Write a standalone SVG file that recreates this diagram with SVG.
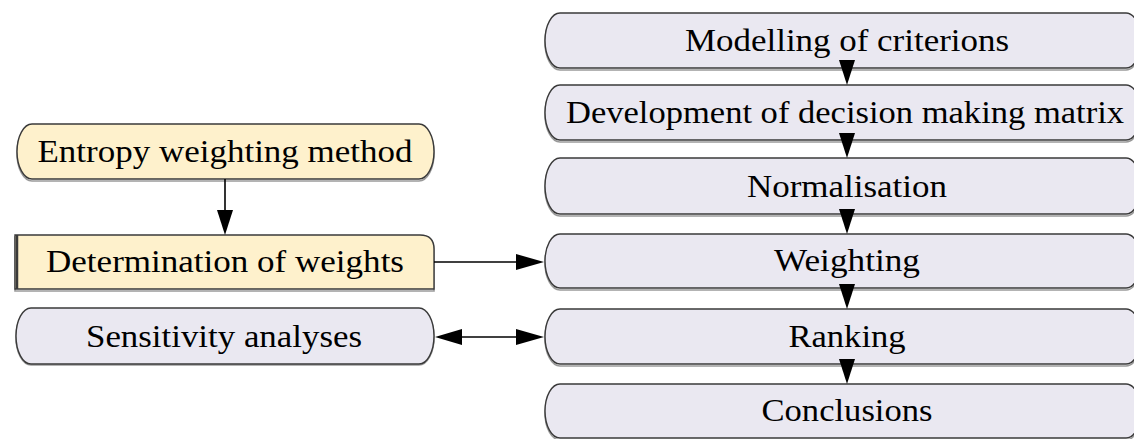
<svg xmlns="http://www.w3.org/2000/svg" width="1134" height="439" viewBox="0 0 1134 439">
<style>
.y{fill:#FEF1CC;stroke:#3a3a3a;stroke-width:1.4}
.p{fill:#EAE8F1;stroke:#3a3a3a;stroke-width:1.4}
.sh{fill:none;stroke:#9a9a9a;stroke-width:1.6}
text{font-family:"Liberation Serif","Times New Roman",serif;font-size:32px;fill:#000;text-anchor:middle}
.ln{stroke:#000;stroke-width:1.6;fill:none}
.ah{fill:#000}
</style>
<rect width="1134" height="439" fill="#fff"/>
<g id="n-entropy">
<rect class="sh" x="17" y="126" width="417" height="55" rx="15" ry="27.5"/>
<rect class="y" x="17" y="124" width="417" height="55" rx="15" ry="27.5"/>
<text x="225" y="162" textLength="375" lengthAdjust="spacingAndGlyphs">Entropy weighting method</text>
</g>
<g id="n-determination">
<path class="sh" d="M15,237 H420 Q434,237 434,251 V291 H15 Z"/>
<path class="y" d="M15,235 H420 Q434,235 434,249 V289 H15 Z"/>
<line x1="17" y1="235" x2="17" y2="289" stroke="#3a3a3a" stroke-width="2.5"/>
<text x="225" y="272" textLength="358" lengthAdjust="spacingAndGlyphs">Determination of weights</text>
</g>
<g id="n-sensitivity">
<rect class="sh" x="16" y="310" width="418" height="55" rx="15" ry="27.5"/>
<rect class="p" x="16" y="308" width="418" height="56" rx="15" ry="28"/>
<text x="224" y="347" textLength="276" lengthAdjust="spacingAndGlyphs">Sensitivity analyses</text>
</g>
<g id="n-modelling">
<rect class="sh" x="545" y="15" width="596" height="55" rx="15" ry="27.5"/>
<rect class="p" x="545" y="13" width="596" height="55" rx="15" ry="27.5"/>
<text x="847" y="51" textLength="324" lengthAdjust="spacingAndGlyphs">Modelling of criterions</text>
</g>
<g id="n-development">
<rect class="sh" x="545" y="87" width="596" height="55" rx="15" ry="27.5"/>
<rect class="p" x="545" y="85" width="596" height="55" rx="15" ry="27.5"/>
<text x="845" y="123" textLength="558" lengthAdjust="spacingAndGlyphs">Development of decision making matrix</text>
</g>
<g id="n-normalisation">
<rect class="sh" x="545" y="160" width="596" height="56" rx="15" ry="28"/>
<rect class="p" x="545" y="158" width="596" height="56" rx="15" ry="28"/>
<text x="847" y="197" textLength="200" lengthAdjust="spacingAndGlyphs">Normalisation</text>
</g>
<g id="n-weighting">
<rect class="sh" x="545" y="236" width="596" height="54" rx="15" ry="27"/>
<rect class="p" x="545" y="234" width="596" height="54" rx="15" ry="27"/>
<text x="847" y="271" textLength="146" lengthAdjust="spacingAndGlyphs">Weighting</text>
</g>
<g id="n-ranking">
<rect class="sh" x="545" y="311" width="596" height="55" rx="15" ry="27.5"/>
<rect class="p" x="545" y="309" width="596" height="55" rx="15" ry="27.5"/>
<text x="847" y="347" textLength="117" lengthAdjust="spacingAndGlyphs">Ranking</text>
</g>
<g id="n-conclusions">
<rect class="sh" x="545" y="386" width="596" height="54" rx="15" ry="27"/>
<rect class="p" x="545" y="384" width="596" height="54" rx="15" ry="27"/>
<text x="847" y="421" textLength="171" lengthAdjust="spacingAndGlyphs">Conclusions</text>
</g>
<g id="connectors">
<line class="ln" x1="225" y1="179" x2="225" y2="212"/>
<polygon class="ah" points="217,210 233,210 225,235"/>
<line class="ln" x1="434" y1="262" x2="518" y2="262"/>
<polygon class="ah" points="516,254 516,270 544,262"/>
<line class="ln" x1="460" y1="337" x2="518" y2="337"/>
<polygon class="ah" points="462,329 462,345 435,337"/>
<polygon class="ah" points="516,329 516,345 544,337"/>
<polygon class="ah" points="839,60 855,60 847,85"/>
<polygon class="ah" points="839,133 855,133 847,158"/>
<polygon class="ah" points="839,209 855,209 847,234"/>
<polygon class="ah" points="839,284 855,284 847,309"/>
<polygon class="ah" points="839,359 855,359 847,384"/>
</g>
</svg>
